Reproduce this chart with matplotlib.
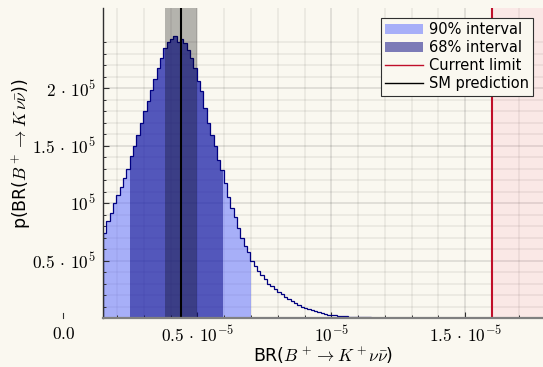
import matplotlib
matplotlib.use("Agg")
import matplotlib.pyplot as plt
from matplotlib.lines import Line2D
from matplotlib.patches import Patch
import numpy as np

# posterior density of BR, in units of 1e5, bins of 0.0125e-5 starting at 0.148e-5
bin_start = 0.148e-5
bin_width = 0.0125e-5
density = [0.74, 0.84, 0.91, 1.00, 1.07, 1.14, 1.22, 1.30, 1.41, 1.50,
           1.59, 1.70, 1.80, 1.89, 1.98, 2.08, 2.17, 2.26, 2.35, 2.40,
           2.43, 2.45, 2.40, 2.43, 2.39, 2.33, 2.26, 2.17, 2.06, 1.97,
           1.83, 1.70, 1.59, 1.50, 1.37, 1.29, 1.17, 1.05, 0.96, 0.88,
           0.78, 0.70, 0.63, 0.57, 0.50, 0.45, 0.41, 0.37, 0.34, 0.30,
           0.28, 0.25, 0.23, 0.21, 0.18, 0.165, 0.15, 0.13, 0.11, 0.095,
           0.087, 0.078, 0.070, 0.061, 0.052, 0.045, 0.037, 0.030, 0.026, 0.022,
           0.019, 0.016, 0.014, 0.012, 0.010, 0.009, 0.008, 0.007, 0.006, 0.005,
           0.004, 0.004, 0.003, 0.003, 0.002, 0.002, 0.002, 0.001, 0.001, 0.001]

interval_90 = (0.148e-5, 0.700e-5)
interval_68 = (0.249e-5, 0.596e-5)
sm_prediction = 0.439e-5
sm_band = (0.380e-5, 0.499e-5)
current_limit = 1.6e-5

xticks = [0.5e-5, 1.0e-5, 1.5e-5]
xticklabels = [r"$0.5\,\cdot\,10^{-5}$", r"$10^{-5}$", r"$1.5\,\cdot\,10^{-5}$"]
yticks = [0.5e5, 1.0e5, 1.5e5, 2.0e5]
yticklabels = [r"$0.5\,\cdot\,10^{5}$", r"$10^{5}$", r"$1.5\,\cdot\,10^{5}$", r"$2\,\cdot\,10^{5}$"]
xminor = [0.2e-5, 0.3e-5, 0.4e-5, 0.6e-5, 0.7e-5, 0.8e-5, 0.9e-5, 1.1e-5, 1.2e-5,
          1.3e-5, 1.4e-5, 1.6e-5, 1.7e-5]
yminor = [0.1e5, 0.2e5, 0.3e5, 0.4e5, 0.6e5, 0.7e5, 0.8e5, 0.9e5, 1.1e5, 1.2e5, 1.3e5,
          1.4e5, 1.6e5, 1.7e5, 1.8e5, 1.9e5, 2.1e5, 2.2e5, 2.3e5, 2.4e5]

bg = "#faf8f0"
c90 = (100/255, 115/255, 1.0)
c68 = "navy"
red = "#c00f2a"

plt.rcParams["mathtext.fontset"] = "cm"

vals = np.array(density) * 1e5
edges = bin_start + bin_width * np.arange(len(vals) + 1)


def clip_steps(vals, edges, a, b):
    """cut the step histogram to [a, b]"""
    inner = edges[(edges > a) & (edges < b)]
    e = np.concatenate([[a], inner, [b]])
    idx = np.searchsorted(edges, e[:-1], side="right") - 1
    return vals[idx], e


fig = plt.figure(figsize=(5.43, 3.67), dpi=100, facecolor=bg)
ax = fig.add_axes([103/543, 1 - 318/367, 1 - 103/543, 310/367])
ax.set_facecolor(bg)

ax.set_xlim(0.148e-5, 1.79e-5)
ax.set_ylim(0, 2.696e5)

# grid
for x in xticks:
    ax.axvline(x, color="k", alpha=0.10, lw=1.4, zorder=0)
for x in xminor:
    ax.axvline(x, color="k", alpha=0.07, lw=1.1, zorder=0)
for y in yticks:
    ax.axhline(y, color="k", alpha=0.10, lw=1.4, zorder=0)
for y in yminor:
    ax.axhline(y, color="k", alpha=0.07, lw=1.1, zorder=0)

v, e = clip_steps(vals, edges, *interval_90)
ax.stairs(v, e, fill=True, color=c90, alpha=0.55, lw=0, zorder=1)
v, e = clip_steps(vals, edges, *interval_68)
ax.stairs(v, e, fill=True, color=c68, alpha=0.5, lw=0, zorder=2)
ax.stairs(vals, edges, color="navy", lw=0.9, zorder=3)

ax.axvspan(*sm_band, color="k", alpha=0.28, lw=0, zorder=4)
ax.axvline(sm_prediction, color="k", lw=1.5, zorder=5)
ax.axvspan(current_limit, 1.79e-5, color=(1.0, 0.2, 0.45), alpha=0.08, lw=0, zorder=1)
ax.axvline(current_limit, color=red, lw=1.5, zorder=5)

# axes frame
for s in ["top", "right"]:
    ax.spines[s].set_visible(False)
ax.spines["left"].set_color("#303030")
ax.spines["left"].set_linewidth(1.0)
ax.spines["bottom"].set_color("#808080")
ax.spines["bottom"].set_linewidth(1.6)
ax.spines["left"].set_zorder(6)
ax.spines["bottom"].set_zorder(6)

ax.set_xticks(xticks)
ax.set_xticklabels(xticklabels)
ax.set_yticks(yticks)
ax.set_yticklabels(yticklabels)
ax.set_xticks(xminor, minor=True)
ax.set_yticks(yminor, minor=True)
ax.tick_params(which="both", direction="in", color="#303030", labelsize=12.5)
ax.tick_params(which="major", length=4, width=0.8, pad=5)
ax.tick_params(which="minor", length=2.2, width=0.7)

# tick at zero sits outside the plotted range
tr = ax.get_xaxis_transform()
ax.plot([0, 0], [0, 0.015], transform=tr, clip_on=False, color="#303030", lw=0.8)
ax.text(0, -0.022, r"$0.0$", transform=tr, ha="center", va="top", fontsize=12.5)

ax.set_xlabel(r"BR($B^+ \to K^+\nu\bar{\nu}$)", fontsize=12.5, labelpad=0)
ax.set_ylabel(r"p(BR($B^+ \to K\,\nu\bar{\nu}$))", fontsize=12.5)
ax.yaxis.set_label_coords(-0.158, 0.53)

handles = [
    Patch(facecolor=c90, alpha=0.55, label="90% interval"),
    Patch(facecolor=c68, alpha=0.5, label="68% interval"),
    Line2D([], [], color=red, lw=1.0, label="Current limit"),
    Line2D([], [], color="k", lw=1.0, label="SM prediction"),
]
leg = ax.legend(handles=handles, loc="upper right", bbox_to_anchor=((533 - 103)/440, 1 - 10/310),
                fontsize=10.5, frameon=True, fancybox=False, framealpha=1, facecolor=bg,
                edgecolor="#303030", borderpad=0.3, labelspacing=0.2, handlelength=2.6,
                handletextpad=0.4, borderaxespad=0)
leg.get_frame().set_linewidth(0.8)
leg.set_zorder(10)

fig.savefig("out.png", dpi=100, facecolor=bg)
